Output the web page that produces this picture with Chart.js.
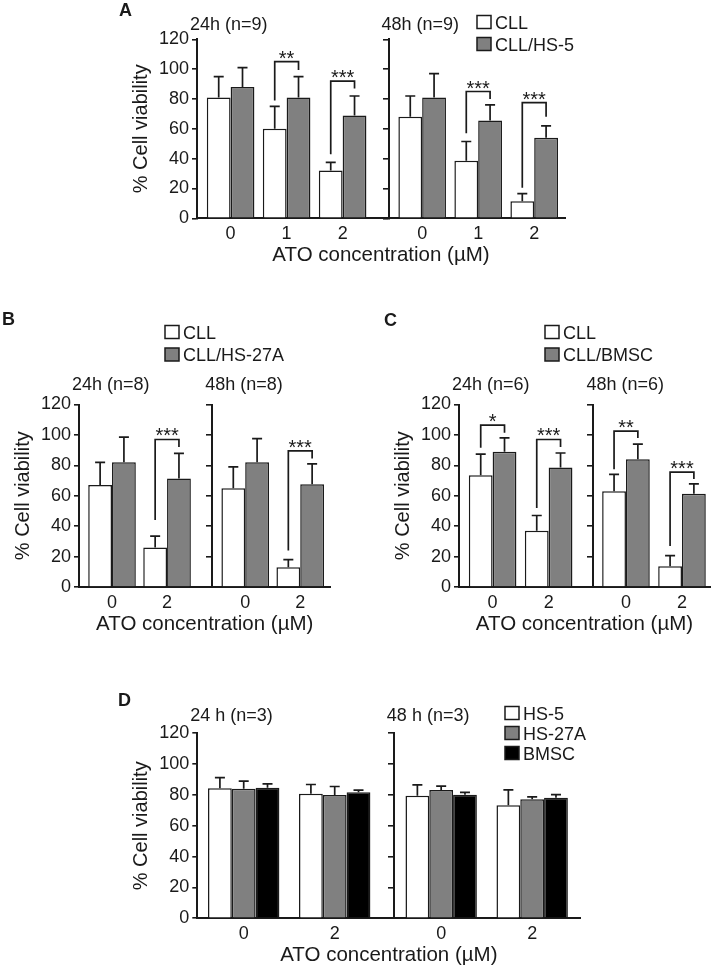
<!DOCTYPE html>
<html>
<head>
<meta charset="utf-8">
<script src="https://cdn.jsdelivr.net/npm/chart.js@4"></script>
<style>
  body { margin: 0; background: #fff; }
  #fig { position: relative; width: 712px; height: 973px; overflow: hidden; }
  canvas { position: absolute; }
</style>
</head>
<body>
<div id="fig">
  <canvas id="panelA"></canvas>
  <canvas id="panelB"></canvas>
  <canvas id="panelC"></canvas>
  <canvas id="panelD"></canvas>
</div>
<script>
const FONT = "'Liberation Sans', Arial, Helvetica, sans-serif";
const INK = "#1a1a1a";
const yTicks = [0, 20, 40, 60, 80, 100, 120];

// Panel A: CLL alone vs CLL on HS-5 (24h doses first, then 48h doses)
const doseA = ["0", "1", "2"];
const timesA = ["24h (n=9)", "48h (n=9)"];
const cllA = [81, 60, 32, 68, 38.5, 11.5];
const cllSdA = [14, 15, 5.5, 14, 13, 5];
const hs5A = [88, 81, 69, 81, 65.5, 54];
const hs5SdA = [13, 14, 13, 16, 10.5, 8];
// [time block, dose index, bracket top, left leg end, right leg end, stars]
const sigA = [
  [0, 1, 105, 79, 99.5, "**"],
  [0, 2, 92, 43, 87, "***"],
  [1, 1, 85, 57, 80, "***"],
  [1, 2, 77.5, 20.5, 68, "***"],
];

// Panel B: CLL vs CLL/HS-27A
const doseB = ["0", "2"];
const timesB = ["24h (n=8)", "48h (n=8)"];
const cllB = [67, 26, 65, 13];
const cllSdB = [15, 7.5, 14, 5];
const hs27aB = [82, 71.3, 82, 67.5];
const hs27aSdB = [16.5, 16.5, 15.5, 13.5];
const sigB = [
  [0, 1, 97, 44, 92, "***"],
  [1, 1, 89.5, 24, 84.5, "***"],
];

// Panel C: CLL vs CLL/BMSC
const doseC = ["0", "2"];
const timesC = ["24h (n=6)", "48h (n=6)"];
const cllC = [73.4, 37, 63, 13.6];
const cllSdC = [14, 10, 11, 7];
const bmscC = [89, 78.6, 84, 61.3];
const bmscSdC = [9, 9.5, 10, 6.5];
const sigC = [
  [0, 0, 106.5, 91.5, 101.5, "*"],
  [0, 1, 97, 52, 92, "***"],
  [1, 0, 102.5, 77.5, 98, "**"],
  [1, 1, 75.5, 27, 71, "***"],
];

// Panel D: stromal cells alone
const doseD = ["0", "2"];
const timesD = ["24 h (n=3)", "48 h (n=3)"];
const hs5D = [84.3, 80.8, 79.5, 73.3];
const hs5SdD = [7, 6, 7, 10];
const hs27aD = [84, 80, 83.2, 77.2];
const hs27aSdD = [5, 5.5, 2.5, 1.5];
const bmscD = [84.7, 81.7, 80.2, 78.2];
const bmscSdD = [2.5, 1.5, 1.5, 2];

// error bars, brackets, headings, legend and panel letter
const figureExtras = {
  id: "figureExtras",
  afterDatasetsDraw(chart, args, opts) {
    const { ctx } = chart;
    const yScale = chart.scales.y;
    ctx.save();
    ctx.strokeStyle = INK;
    ctx.lineWidth = 1.7;
    chart.data.datasets.forEach((ds, di) => {
      chart.getDatasetMeta(di).data.forEach((bar, i) => {
        const top = yScale.getPixelForValue(ds.data[i].y + ds.errors[i]);
        ctx.beginPath();
        ctx.moveTo(bar.x, bar.y);
        ctx.lineTo(bar.x, top);
        ctx.moveTo(bar.x - 5, top);
        ctx.lineTo(bar.x + 5, top);
        ctx.stroke();
      });
    });

    ctx.fillStyle = INK;
    ctx.font = `20px ${FONT}`;
    ctx.textAlign = "center";
    ctx.textBaseline = "alphabetic";
    opts.brackets.forEach(([block, dose, top, from, to, stars]) => {
      const k = block * opts.perBlock + dose;
      const x1 = chart.getDatasetMeta(0).data[k].x;
      const x2 = chart.getDatasetMeta(1).data[k].x;
      const yTop = yScale.getPixelForValue(top);
      ctx.beginPath();
      ctx.moveTo(x1, yScale.getPixelForValue(from));
      ctx.lineTo(x1, yTop);
      ctx.lineTo(x2, yTop);
      ctx.lineTo(x2, yScale.getPixelForValue(to));
      ctx.stroke();
      ctx.fillText(stars, (x1 + x2) / 2, yTop + 3);
    });
    ctx.restore();
  },
  afterDraw(chart, args, opts) {
    const { ctx, chartArea } = chart;
    ctx.save();
    ctx.fillStyle = INK;
    ctx.textAlign = "left";
    ctx.textBaseline = "alphabetic";

    ctx.font = `bold 18px ${FONT}`;
    ctx.fillText(opts.letter, opts.letterAt[0], opts.letterAt[1]);

    ctx.font = `18px ${FONT}`;
    const axisX = [chartArea.left, chart.scales.x.getPixelForValue(opts.midPos)];
    opts.times.forEach((t, b) => {
      ctx.fillText(t, axisX[b] - 7, chartArea.top - opts.timeGap);
    });

    const [lx, ly, step] = opts.legendAt;
    chart.data.datasets.forEach((ds, i) => {
      const base = ly + i * step;
      ctx.fillStyle = ds.backgroundColor;
      ctx.fillRect(lx, base - 13, 14, 13);
      ctx.strokeStyle = INK;
      ctx.lineWidth = 1.5;
      ctx.strokeRect(lx, base - 13, 14, 13);
      ctx.fillStyle = INK;
      ctx.fillText(ds.label, lx + 18, base);
    });
    ctx.restore();
  },
};

function buildPanel(id, p) {
  const canvas = document.getElementById(id);
  const [cl, ct, cw, ch] = p.canvas;
  canvas.style.left = cl + "px";
  canvas.style.top = ct + "px";
  canvas.width = cw;
  canvas.height = ch;

  // group centres on a linear x axis, in units of one dose group
  const n = p.doses.length;
  const [start, mid, after, end] = p.gaps;
  const midPos = start + (n - 1) + mid;
  const xPos = [];
  for (let b = 0; b < 2; b++) {
    for (let i = 0; i < n; i++) xPos.push(b === 0 ? start + i : midPos + after + i);
  }
  const xMax = midPos + after + (n - 1) + end;
  const xLabels = xPos.map((v, k) => p.doses[k % n]);

  const [al, ar, at, ab] = p.area;
  const yW = 70;
  const xH = ct + ch - ab;
  const titleSize = 20.5;

  const datasets = p.series.map((s) => ({
    label: s.label,
    data: s.values.map((v, k) => ({ x: xPos[k], y: v })),
    errors: s.errors,
    backgroundColor: s.color,
    borderColor: INK,
    borderWidth: 1.5,
    borderSkipped: "start",
    inflateAmount: 0,
    barThickness: 23.8,
    xAxisID: "x",
    yAxisID: "y",
  }));

  const yOpts = {
    min: yTicks[0],
    max: yTicks[yTicks.length - 1],
    ticks: { stepSize: yTicks[1] - yTicks[0] },
    grid: { drawOnChartArea: false, drawTicks: true, tickLength: 5, color: INK, lineWidth: 1.6 },
    border: { color: INK, width: 2 },
  };

  return new Chart(canvas, {
    type: "bar",
    data: { datasets },
    options: {
      responsive: false,
      animation: false,
      devicePixelRatio: 1,
      layout: {
        padding: { left: al - cl - yW, right: cl + cw - ar, top: at - ct, bottom: 0 },
      },
      plugins: {
        legend: { display: false },
        tooltip: { enabled: false },
        figureExtras: {
          letter: p.letter,
          letterAt: p.letterAt,
          times: p.times,
          timeGap: p.timeGap,
          midPos,
          perBlock: n,
          legendAt: p.legendAt,
          brackets: p.brackets,
        },
      },
      scales: {
        x: {
          type: "linear",
          min: 0,
          max: xMax,
          bounds: "data",
          offset: false,
          afterBuildTicks: (s) => { s.ticks = xPos.map((v) => ({ value: v })); },
          afterFit: (s) => { s.height = xH; },
          ticks: {
            callback: (v, i) => xLabels[i],
            autoSkip: false,
            maxRotation: 0,
            padding: 5,
            color: INK,
            font: { family: FONT, size: 18 },
          },
          grid: { display: false, drawTicks: false, offset: false },
          border: { color: INK, width: 2 },
          title: {
            display: true,
            text: "ATO concentration (µM)",
            color: INK,
            font: { family: FONT, size: titleSize },
            padding: { top: 0, bottom: xH - 37.5 - (titleSize * 1.2) / 2 },
          },
        },
        y: {
          ...yOpts,
          position: "left",
          afterFit: (s) => { s.width = yW; },
          ticks: { ...yOpts.ticks, padding: 3, color: INK, font: { family: FONT, size: 18 } },
          title: {
            display: true,
            text: "% Cell viability",
            color: INK,
            font: { family: FONT, size: 20 },
            padding: { top: 2.5, bottom: 0 },
          },
        },
        // second y axis between the 24h and 48h blocks
        y2: {
          ...yOpts,
          axis: "y",
          position: { x: midPos },
          ticks: { ...yOpts.ticks, display: false },
        },
      },
    },
    plugins: [figureExtras],
  });
}

window.onload = () => {
  buildPanel("panelA", {
    canvas: [0, 0, 712, 278],
    area: [197, 565, 39.3, 218.3],
    gaps: [0.6, 0.82, 0.6, 0.55],
    doses: doseA,
    times: timesA,
    series: [
      { label: "CLL", values: cllA, errors: cllSdA, color: "#ffffff" },
      { label: "CLL/HS-5", values: hs5A, errors: hs5SdA, color: "#808080" },
    ],
    brackets: sigA,
    letter: "A",
    letterAt: [119, 16],
    legendAt: [477, 28.5, 22],
    timeGap: 9.5,
  });

  buildPanel("panelB", {
    canvas: [0, 300, 356, 347.5],
    area: [79, 330.5, 404.5, 587.5],
    gaps: [0.6, 0.82, 0.6, 0.55],
    doses: doseB,
    times: timesB,
    series: [
      { label: "CLL", values: cllB, errors: cllSdB, color: "#ffffff" },
      { label: "CLL/HS-27A", values: hs27aB, errors: hs27aSdB, color: "#808080" },
    ],
    brackets: sigB,
    letter: "B",
    letterAt: [2, 25],
    legendAt: [165, 38.5, 22.5],
    timeGap: 14.5,
  });

  buildPanel("panelC", {
    canvas: [356, 300, 356, 347.5],
    area: [459, 710, 404.5, 587.5],
    gaps: [0.6, 0.8, 0.58, 0.5],
    doses: doseC,
    times: timesC,
    series: [
      { label: "CLL", values: cllC, errors: cllSdC, color: "#ffffff" },
      { label: "CLL/BMSC", values: bmscC, errors: bmscSdC, color: "#808080" },
    ],
    brackets: sigC,
    letter: "C",
    letterAt: [28, 26],
    legendAt: [189, 38.5, 22.5],
    timeGap: 14.5,
  });

  buildPanel("panelD", {
    canvas: [0, 680, 712, 293],
    area: [197.3, 580.4, 733.3, 918.3],
    gaps: [0.51, 0.65, 0.52, 0.53],
    doses: doseD,
    times: timesD,
    series: [
      { label: "HS-5", values: hs5D, errors: hs5SdD, color: "#ffffff" },
      { label: "HS-27A", values: hs27aD, errors: hs27aSdD, color: "#808080" },
      { label: "BMSC", values: bmscD, errors: bmscSdD, color: "#000000" },
    ],
    brackets: [],
    letter: "D",
    letterAt: [118, 26],
    legendAt: [505, 39.5, 20],
    timeGap: 12.3,
  });
};
</script>
</body>
</html>
